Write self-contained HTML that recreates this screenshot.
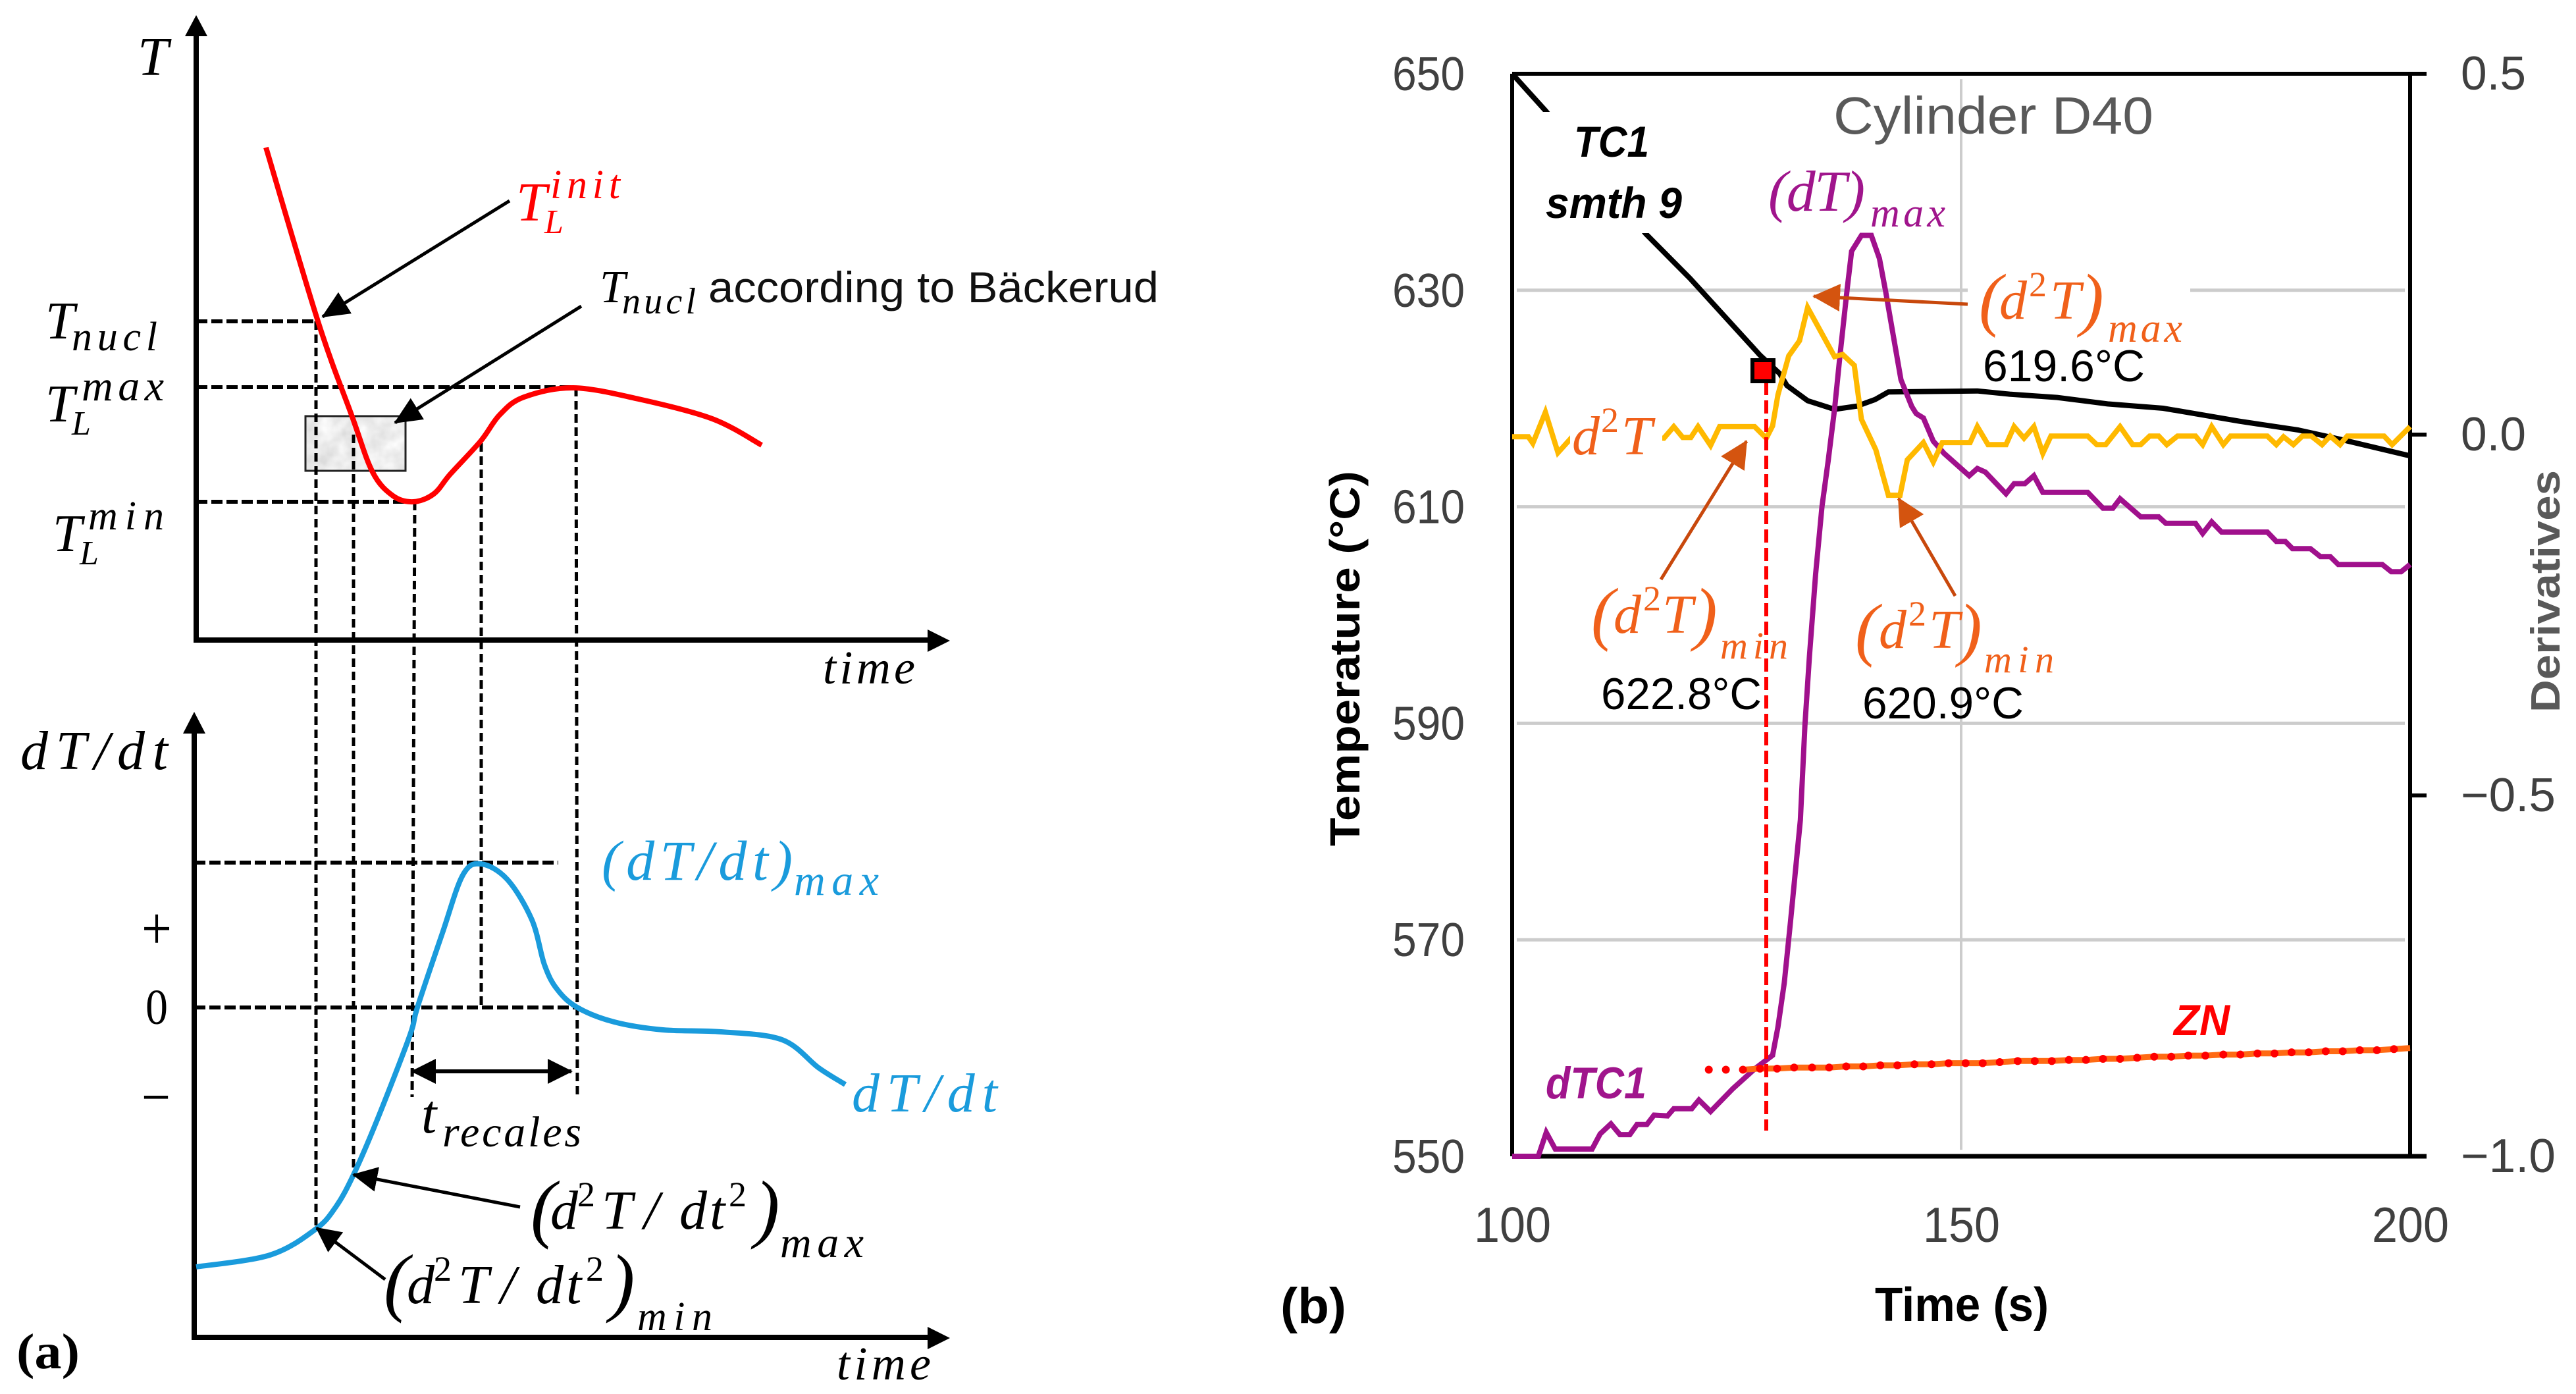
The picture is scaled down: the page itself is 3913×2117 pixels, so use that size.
<!DOCTYPE html>
<html lang="en">
<head>
<meta charset="utf-8">
<title>Cooling curve schematic and Cylinder D40 measurement</title>
<style>
html,body{margin:0;padding:0;background:#fff;width:3913px;height:2117px;overflow:hidden}
svg{display:block}
.m{font-family:"Liberation Serif",serif;font-style:italic}
.s{font-family:"Liberation Sans",sans-serif}
</style>
</head>
<body>
<svg id="figure" xmlns="http://www.w3.org/2000/svg" width="3913" height="2117" viewBox="0 0 3913 2117">
<defs>
<marker id="ah" markerUnits="userSpaceOnUse" markerWidth="42" markerHeight="38" refX="40" refY="19" orient="auto-start-reverse"><path d="M0,0L42,19L0,38z" fill="#000"/></marker>
<marker id="ahs" markerUnits="userSpaceOnUse" markerWidth="38" markerHeight="38" refX="36" refY="19" orient="auto-start-reverse"><path d="M0,0L38,19L0,38z" fill="#000"/></marker>
<marker id="ao" markerUnits="userSpaceOnUse" markerWidth="42" markerHeight="42" refX="40" refY="21" orient="auto"><path d="M0,0L42,21L0,42z" fill="#d4540f"/></marker>
<filter id="mottle" x="0" y="0" width="100%" height="100%">
  <feTurbulence type="fractalNoise" baseFrequency="0.035" numOctaves="3" seed="4"/>
  <feColorMatrix type="matrix" values="0 0 0 0 0.82  0 0 0 0 0.82  0 0 0 0 0.82  0 0 0 0 1"/>
  <feComposite in2="SourceGraphic" operator="in" result="base"/>
  <feTurbulence type="fractalNoise" baseFrequency="0.035" numOctaves="3" seed="4" result="n"/>
  <feColorMatrix in="n" type="matrix" values="0.45 0 0 0 0.62  0.45 0 0 0 0.62  0.45 0 0 0 0.62  0 0 0 0 1"/>
  <feComposite in2="SourceGraphic" operator="in"/>
</filter>
</defs>
<rect width="3913" height="2117" fill="#fff"/>

<g id="panel-a">
  <rect x="464" y="632" width="152" height="83" fill="#dcdcdc" filter="url(#mottle)"/>
  <rect x="464" y="632" width="152" height="83" fill="none" stroke="#222" stroke-width="3"/>
  <g stroke="#000" stroke-width="6" stroke-dasharray="17 6" fill="none">
    <line x1="298" y1="488" x2="483" y2="488"/>
    <line x1="298" y1="588" x2="871" y2="588"/>
    <line x1="298" y1="762" x2="628" y2="762"/>
    <line x1="295" y1="1310" x2="848" y2="1310"/>
    <line x1="295" y1="1530" x2="878" y2="1530"/>
  </g>
  <g stroke="#000" stroke-width="5" stroke-dasharray="13 7" fill="none">
    <line x1="480" y1="488" x2="480" y2="1867"/>
    <line x1="537" y1="660" x2="537" y2="1785"/>
    <line x1="630" y1="762" x2="626" y2="1666"/>
    <line x1="731" y1="673" x2="731" y2="1530"/>
    <line x1="875" y1="589" x2="877" y2="1666"/>
  </g>
  <g>
    <line x1="298" y1="50" x2="298" y2="976" stroke="#000" stroke-width="8"/>
    <polygon points="298,23 315,55 281,55" fill="#000"/>
    <line x1="295" y1="972" x2="1415" y2="972" stroke="#000" stroke-width="8"/>
    <polygon points="1443,973 1409,956 1409,990" fill="#000"/>
  </g>
  <g>
    <line x1="295" y1="1110" x2="295" y2="2035" stroke="#000" stroke-width="8"/>
    <polygon points="295,1081 312,1114 278,1114" fill="#000"/>
    <line x1="292" y1="2031" x2="1415" y2="2031" stroke="#000" stroke-width="8"/>
    <polygon points="1443,2032 1409,2015 1409,2049" fill="#000"/>
  </g>
  <g id="schematic-curves"></g>

  <line x1="774" y1="305" x2="490" y2="481" stroke="#000" stroke-width="5" marker-end="url(#ah)"/>
  <line x1="883" y1="465" x2="600" y2="642" stroke="#000" stroke-width="5" marker-end="url(#ah)"/>
  <line x1="626" y1="1627" x2="868" y2="1627" stroke="#000" stroke-width="6" marker-start="url(#ahs)" marker-end="url(#ahs)"/>
  <line x1="790" y1="1833" x2="537" y2="1784" stroke="#000" stroke-width="5" marker-end="url(#ahs)"/>
  <line x1="585" y1="1943" x2="481" y2="1865" stroke="#000" stroke-width="5" marker-end="url(#ahs)"/>

  <text class="m" x="209" y="114" font-size="84">T</text>
  <text class="m" x="69" y="514" font-size="80">T</text>
  <text class="m" x="109" y="532" font-size="62" textLength="130">nucl</text>
  <text class="m" x="69" y="640" font-size="80">T</text>
  <text class="m" x="124" y="608" font-size="66" textLength="125">max</text>
  <text class="m" x="109" y="660" font-size="52">L</text>
  <text class="m" x="80" y="837" font-size="80">T</text>
  <text class="m" x="134" y="804" font-size="62" textLength="115">min</text>
  <text class="m" x="121" y="857" font-size="52">L</text>
  <text class="m" x="1250" y="1038" font-size="72" textLength="140">time</text>
  <g fill="#ff0000">
    <text class="m" x="784" y="335" font-size="84">T</text>
    <text class="m" x="836" y="301" font-size="62" textLength="106">init</text>
    <text class="m" x="827" y="354" font-size="52">L</text>
  </g>
  <text class="m" x="911" y="459" font-size="70">T</text>
  <text class="m" x="945" y="476" font-size="56" textLength="112">nucl</text>
  <text class="s" x="1076" y="459" font-size="66" fill="#111" textLength="684" lengthAdjust="spacingAndGlyphs">according to Bäckerud</text>

  <text class="m" x="31" y="1168" font-size="84" textLength="224">dT/dt</text>
  <text font-family="Liberation Serif,serif" x="215" y="1441" font-size="92" textLength="46" lengthAdjust="spacingAndGlyphs">+</text>
  <text font-family="Liberation Serif,serif" x="221" y="1555" font-size="76" textLength="34" lengthAdjust="spacingAndGlyphs">0</text>
  <text font-family="Liberation Serif,serif" x="215" y="1697" font-size="92" textLength="44" lengthAdjust="spacingAndGlyphs">−</text>
  <text class="m" x="1271" y="2095" font-size="72" textLength="143">time</text>
  <g fill="#1a9bdc">
    <text class="m" x="914" y="1336" font-size="86" textLength="290">(dT/dt)</text>
    <text class="m" x="1206" y="1359" font-size="66" textLength="129">max</text>
  </g>
  <text class="m" x="1294" y="1688" font-size="84" fill="#1a9bdc" textLength="221">dT/dt</text>
  <text class="m" x="640" y="1720" font-size="84">t</text>
  <text class="m" x="672" y="1741" font-size="66" textLength="211">recales</text>

  <text class="m" x="806" y="1873" font-size="115">(</text>
  <text class="m" y="1866" font-size="84"><tspan x="836">d</tspan><tspan x="877" dy="-34" font-size="54" font-style="normal">2</tspan><tspan x="914" dy="34">T</tspan><tspan x="978">/</tspan><tspan x="1032">d</tspan><tspan x="1078">t</tspan><tspan x="1107" dy="-34" font-size="54" font-style="normal">2</tspan></text>
  <text class="m" x="1146" y="1873" font-size="115">)</text>
  <text class="m" x="1185" y="1909" font-size="66" textLength="127">max</text>
  <text class="m" x="583" y="1985" font-size="115">(</text>
  <text class="m" y="1979" font-size="84"><tspan x="618">d</tspan><tspan x="659" dy="-34" font-size="54" font-style="normal">2</tspan><tspan x="696" dy="34">T</tspan><tspan x="760">/</tspan><tspan x="814">d</tspan><tspan x="860">t</tspan><tspan x="890" dy="-34" font-size="54" font-style="normal">2</tspan></text>
  <text class="m" x="926" y="1985" font-size="115">)</text>
  <text class="m" x="968" y="2020" font-size="62" textLength="114">min</text>
  <text font-family="Liberation Serif,serif" font-weight="bold" x="25" y="2078" font-size="76" textLength="96" lengthAdjust="spacingAndGlyphs">(a)</text>
</g>

<g id="panel-b">
  <g id="grid"></g>
  <rect x="2989" y="430" width="338" height="22" fill="#fff"/>
  <g id="axes"></g>
  <g id="series"></g>
  <rect x="2325" y="170" width="250" height="184" fill="#fff"/>
  <rect x="2385" y="622" width="140" height="78" fill="#fff"/>
  <text class="s" x="2785" y="203" font-size="80" fill="#595959" textLength="486" lengthAdjust="spacingAndGlyphs">Cylinder D40</text>
  <text class="s" x="2391" y="238" font-size="66" font-weight="bold" font-style="italic" textLength="114" lengthAdjust="spacingAndGlyphs">TC1</text>
  <text class="s" x="2348" y="331" font-size="66" font-weight="bold" font-style="italic" textLength="207" lengthAdjust="spacingAndGlyphs">smth 9</text>
  <g fill="#a0158c">
    <text class="m" x="2686" y="320" font-size="88" textLength="147">(dT)</text>
    <text class="m" x="2841" y="344" font-size="62" textLength="114">max</text>
  </g>
  <g fill="#f0601a">
    <text class="m" y="690" font-size="84"><tspan x="2388">d</tspan><tspan x="2432" dy="-34" font-size="54" font-style="normal">2</tspan><tspan x="2463" dy="34">T</tspan></text>
    <text class="m" x="3006" y="490" font-size="107">(</text>
    <text class="m" y="484" font-size="84"><tspan x="3037">d</tspan><tspan x="3082" dy="-34" font-size="54" font-style="normal">2</tspan><tspan x="3114" dy="34">T</tspan></text>
    <text class="m" x="3160" y="490" font-size="107">)</text>
    <text class="m" x="3202" y="519" font-size="62" textLength="113">max</text>
    <text class="m" x="2417" y="967" font-size="107">(</text>
    <text class="m" y="961" font-size="84"><tspan x="2451">d</tspan><tspan x="2496" dy="-34" font-size="54" font-style="normal">2</tspan><tspan x="2525" dy="34">T</tspan></text>
    <text class="m" x="2573" y="967" font-size="107">)</text>
    <text class="m" x="2613" y="1000" font-size="58" textLength="103">min</text>
    <text class="m" x="2818" y="991" font-size="107">(</text>
    <text class="m" y="984" font-size="84"><tspan x="2854">d</tspan><tspan x="2899" dy="-34" font-size="54" font-style="normal">2</tspan><tspan x="2930" dy="34">T</tspan></text>
    <text class="m" x="2975" y="991" font-size="107">)</text>
    <text class="m" x="3014" y="1021" font-size="58" textLength="106">min</text>
  </g>
  <line x1="2989" y1="462" x2="2755" y2="450" stroke="#c8480c" stroke-width="5" marker-end="url(#ao)"/>
  <line x1="2523" y1="880" x2="2653" y2="670" stroke="#c8480c" stroke-width="5" marker-end="url(#ao)"/>
  <line x1="2970" y1="905" x2="2884" y2="757" stroke="#c8480c" stroke-width="5" marker-end="url(#ao)"/>
  <text class="s" x="3012" y="579" font-size="68" textLength="246" lengthAdjust="spacingAndGlyphs">619.6°C</text>
  <text class="s" x="2432" y="1077" font-size="68" textLength="244" lengthAdjust="spacingAndGlyphs">622.8°C</text>
  <text class="s" x="2829" y="1091" font-size="68" textLength="245" lengthAdjust="spacingAndGlyphs">620.9°C</text>
  <text class="s" x="3302" y="1572" font-size="66" font-weight="bold" font-style="italic" fill="#ff0000" textLength="85" lengthAdjust="spacingAndGlyphs">ZN</text>
  <text class="s" x="2348" y="1668" font-size="68" font-style="italic" font-weight="bold" fill="#a0158c" textLength="153" lengthAdjust="spacingAndGlyphs">dTC1</text>
  <line x1="2683" y1="580" x2="2683" y2="1717" stroke="#ff0000" stroke-width="6" stroke-dasharray="20 8"/>
  <rect x="2662" y="547" width="32" height="32" fill="#ff0000" stroke="#000" stroke-width="6"/>
  <text class="s" transform="translate(2065,1285) rotate(-90)" font-size="64" font-weight="bold" textLength="570" lengthAdjust="spacingAndGlyphs">Temperature (°C)</text>
  <text class="s" transform="translate(3888,1082) rotate(-90)" font-size="62" font-weight="bold" fill="#595959" textLength="368" lengthAdjust="spacingAndGlyphs">Derivatives</text>
  <text class="s" x="2848" y="2006" font-size="72" font-weight="bold" textLength="264" lengthAdjust="spacingAndGlyphs">Time (s)</text>
  <text class="s" x="1945" y="2009" font-size="76" font-weight="bold" textLength="100" lengthAdjust="spacingAndGlyphs">(b)</text>
</g>
</svg>

<script>
// Panel (a): schematic curves, in arbitrary schematic units
const coolTimes = [10.6,18.5,23.7,26.8,29.9,33.0,36.1,38.6,43.2,46.1,49.8,57.3,67.2,78.4,85.9];
const coolValues = [74.8,48.4,33.9,25.5,21.9,21.0,22.2,25.2,30.2,34.2,36.9,38.3,36.6,33.6,29.6];
const rateTimes = [0,11.2,18.1,21.2,23.9,27.4,32.4,33.6,37.4,40.5,43.3,47.3,51,52.9,54.8,57.9,63.5,70.9,79.7,89,94.6,98.6];
const rateValues = [10.7,12.5,16.4,19.8,24.7,32.8,45.7,50.1,61.4,70.2,71.9,69.5,63.4,56.6,52.9,50.1,47.9,46.7,46.4,45.2,40.9,38.4];

// Panel (b): measured series
const tempTimes = [100,103.7,114.9,119.8,127.6,129.8,130.6,132.9,135.9,138.4,140.4,141.9,151.8,155.4,160.7,166.3,172.5,181,187.5,192.4,200];
const tempValues = [650,646.6,635.2,631.1,624,622.3,621.2,619.8,619,619.3,619.9,620.6,620.7,620.4,620.1,619.5,619.1,617.9,617.1,616.2,614.7];
const d1Times = [100,101.3,102.9,103.8,104.8,108.9,109.8,111,112,113.1,113.9,115,115.8,117.3,118,120,120.8,122.1,124.6,127.1,129,129.6,130.3,131,132.1,132.6,133.1,133.8,134.5,135.2,135.9,136.5,137.3,137.8,138.9,140,140.9,141.6,142.7,143.3,144.5,145,145.8,146.9,148.1,150.9,151.8,152.7,155,155.9,157.1,158.1,159.1,164.1,165.8,166.9,167.7,170,172,172.8,176.1,176.9,177.9,179,184.1,185.1,186.1,186.9,188.9,190,191.1,192,196.9,197.9,199,200];
const d1Values = [-1,-1,-1,-0.967,-0.99,-0.99,-0.969,-0.955,-0.97,-0.97,-0.956,-0.956,-0.943,-0.944,-0.934,-0.934,-0.922,-0.938,-0.906,-0.878,-0.86,-0.821,-0.76,-0.675,-0.534,-0.403,-0.308,-0.193,-0.1,-0.036,0.035,0.109,0.201,0.254,0.276,0.276,0.244,0.198,0.119,0.076,0.039,0.029,0.023,-0.009,-0.026,-0.057,-0.047,-0.052,-0.082,-0.068,-0.068,-0.057,-0.08,-0.08,-0.102,-0.102,-0.089,-0.114,-0.114,-0.123,-0.123,-0.137,-0.121,-0.135,-0.135,-0.148,-0.148,-0.158,-0.158,-0.169,-0.169,-0.18,-0.18,-0.19,-0.19,-0.18];
const d2Times = [100,101.8,102.3,103.7,105.1,106.7,116.9,118,119,119.9,120.7,122.1,123.1,127,128.3,129,129.6,130.8,132,132.9,135.9,136.8,138.1,138.9,140.5,141.9,143.2,144,145.8,146.9,147.9,151,151.8,153,155,155.9,157,158.1,159.1,160,164.1,165.1,166.1,167.7,169.1,170,171,172,172.9,174.1,176.1,176.9,177.9,179.2,180,184.1,185.1,185.9,187,188,189,190.2,191.1,192.2,193,197.1,198,200];
const d2Values = [-0.003,-0.003,-0.012,0.031,-0.025,-0.003,-0.005,0.011,-0.004,-0.004,0.011,-0.015,0.011,0.011,-0.005,0.012,0.055,0.109,0.13,0.176,0.108,0.111,0.096,0.021,-0.021,-0.084,-0.084,-0.035,-0.011,-0.038,-0.011,-0.011,0.011,-0.014,-0.014,0.011,-0.005,0.011,-0.026,-0.002,-0.002,-0.014,-0.014,0.011,-0.014,-0.014,-0.002,-0.002,-0.014,-0.002,-0.002,-0.014,0.011,-0.014,-0.002,-0.002,-0.014,-0.003,-0.014,-0.002,-0.002,-0.014,-0.002,-0.014,-0.002,-0.002,-0.014,0.011];
const zoneTimes = [121.9,123.8,125.7,127.6,129.5,131.4,133.4,135.3,137.2,139.1,141,142.9,144.8,146.7,148.6,150.5,152.4,154.3,156.3,158.2,160.1,162,163.9,165.8,167.7,169.6,171.5,173.4,175.3,177.2,179.2,181.1,183,184.9,186.8,188.7,190.6,192.5,194.4,196.3,198.2];
const zoneValues = [558,558,558,558.1,558.1,558.2,558.2,558.2,558.3,558.3,558.4,558.4,558.5,558.5,558.6,558.6,558.6,558.7,558.8,558.8,558.8,558.9,558.9,559,559,559.1,559.2,559.2,559.3,559.3,559.4,559.4,559.5,559.5,559.6,559.6,559.7,559.7,559.8,559.8,559.9];

// Tick labels
const leftTicks = [550,570,590,610,630,650];
const rightTicks = [-1,-0.5,0,0.5];
const rightTickLabels = ['−1.0','−0.5','0.0','0.5'];
const xTicks = [100,150,200];

const NS = 'http://www.w3.org/2000/svg';

// Axis functions, panel (b)
function xScale(t) { return 2297 + (t - 100) * 13.64; }
function yTemp(v) { return 1756 - (v - 550) * 16.44; }
function yDeriv(v) { return 660 - v * 1096; }

// Axis functions, panel (a)
function schemX(t) { return 298 + t * 10; }
function schemYUpper(v) { return 972 - v * 10; }
function schemYLower(v) { return 2031 - v * 10; }

function make(tag, parent) {
  const el = document.createElementNS(NS, tag);
  parent.appendChild(el);
  return el;
}
function pointsAttr(xs, ys, fx, fy) {
  return xs.map(function (x, i) { return fx(x).toFixed(1) + ',' + fy(ys[i]).toFixed(1); }).join(' ');
}
function smoothPath(xs, ys, fx, fy) {
  const p = xs.map(function (x, i) { return [fx(x), fy(ys[i])]; });
  let d = 'M' + p[0][0] + ',' + p[0][1];
  for (let i = 0; i < p.length - 1; i++) {
    const a = p[Math.max(i - 1, 0)], b = p[i], c = p[i + 1], e = p[Math.min(i + 2, p.length - 1)];
    d += 'C' + (b[0] + (c[0] - a[0]) / 6).toFixed(1) + ',' + (b[1] + (c[1] - a[1]) / 6).toFixed(1) + ' ' +
         (c[0] - (e[0] - b[0]) / 6).toFixed(1) + ',' + (c[1] - (e[1] - b[1]) / 6).toFixed(1) + ' ' +
         c[0].toFixed(1) + ',' + c[1].toFixed(1);
  }
  return d;
}

// Schematic curves
const schematic = document.getElementById('schematic-curves');
const coolCurve = make('path', schematic);


coolCurve.setAttribute('d', smoothPath(coolTimes, coolValues, schemX, schemYUpper));
coolCurve.setAttribute('fill', 'none');
coolCurve.setAttribute('stroke', '#ff0000');
coolCurve.setAttribute('stroke-width', '8');
const rateCurve = make('path', schematic);


rateCurve.setAttribute('d', smoothPath(rateTimes, rateValues, schemX, schemYLower));
rateCurve.setAttribute('fill', 'none');
rateCurve.setAttribute('stroke', '#1a9bdc');
rateCurve.setAttribute('stroke-width', '8');

// Grid
const grid = document.getElementById('grid');
leftTicks.forEach(function (v) {
  if (v === 550 || v === 650) return;
  const g = make('line', grid);
  
  
  g.setAttribute('x1', xScale(100) + 7);
  g.setAttribute('x2', xScale(200) - 8);
  g.setAttribute('y1', yTemp(v));
  g.setAttribute('y2', yTemp(v));
  g.setAttribute('stroke', '#cccccc');
  g.setAttribute('stroke-width', '5');
});
const vGrid = make('line', grid);


vGrid.setAttribute('x1', xScale(150));
vGrid.setAttribute('x2', xScale(150));
vGrid.setAttribute('y1', yTemp(649.5));
vGrid.setAttribute('y2', yTemp(550.6));
vGrid.setAttribute('stroke', '#cccccc');
vGrid.setAttribute('stroke-width', '4');

// Axes
const axes = document.getElementById('axes');
function spine(name, x1, y1, x2, y2, w) {
  const l = make('line', axes);
  l.setAttribute('x1', x1);
  l.setAttribute('y1', y1);
  l.setAttribute('x2', x2);
  l.setAttribute('y2', y2);
  l.setAttribute('stroke', '#000');
  l.setAttribute('stroke-width', w);
  
  
}
spine('left-spine', xScale(100), yTemp(650), xScale(100), yTemp(550), 6);
spine('right-spine', xScale(200), yTemp(650), xScale(200), yTemp(550), 6);
spine('top-spine', xScale(100), yTemp(650), xScale(200) + 25, yTemp(650), 6);
spine('bottom-spine', xScale(100), yTemp(550), xScale(200) + 25, yTemp(550), 7);

rightTicks.forEach(function (v, i) {
  spine('right-tick', xScale(200), yDeriv(v), xScale(200) + 25, yDeriv(v), 6);
  const t = make('text', axes);
  
  
  t.setAttribute('x', 3738);
  t.setAttribute('y', yDeriv(v) + 24);
  t.setAttribute('class', 's');
  t.setAttribute('font-size', '72');
  t.setAttribute('fill', '#404040');
  t.setAttribute('textLength', rightTickLabels[i].length > 3 ? 144 : 99);
  t.setAttribute('lengthAdjust', 'spacingAndGlyphs');
  t.textContent = rightTickLabels[i];
});
leftTicks.forEach(function (v) {
  const t = make('text', axes);
  
  
  t.setAttribute('x', 2115);
  t.setAttribute('y', yTemp(v) + 25);
  t.setAttribute('class', 's');
  t.setAttribute('font-size', '72');
  t.setAttribute('fill', '#404040');
  t.setAttribute('textLength', 110);
  t.setAttribute('lengthAdjust', 'spacingAndGlyphs');
  t.textContent = v;
});
xTicks.forEach(function (v) {
  const t = make('text', axes);
  
  
  t.setAttribute('x', xScale(v) - 58);
  t.setAttribute('y', 1886);
  t.setAttribute('class', 's');
  t.setAttribute('font-size', '75');
  t.setAttribute('fill', '#404040');
  t.setAttribute('textLength', 117);
  t.setAttribute('lengthAdjust', 'spacingAndGlyphs');
  t.textContent = v;
});

// Series
const series = document.getElementById('series');
const tempLine = make('polyline', series);


tempLine.setAttribute('points', pointsAttr(tempTimes, tempValues, xScale, yTemp));
tempLine.setAttribute('fill', 'none');
tempLine.setAttribute('stroke', '#000');
tempLine.setAttribute('stroke-width', '8');

const d1Line = make('polyline', series);


d1Line.setAttribute('points', pointsAttr(d1Times, d1Values, xScale, yDeriv));
d1Line.setAttribute('fill', 'none');
d1Line.setAttribute('stroke', '#a0108c');
d1Line.setAttribute('stroke-width', '8');

const d2Line = make('polyline', series);


d2Line.setAttribute('points', pointsAttr(d2Times, d2Values, xScale, yDeriv));
d2Line.setAttribute('fill', 'none');
d2Line.setAttribute('stroke', '#ffb900');
d2Line.setAttribute('stroke-width', '8');

const zoneLine = make('polyline', series);


zoneLine.setAttribute('points', pointsAttr(zoneTimes.slice(2).concat([200]), zoneValues.slice(2).concat([560]), xScale, yTemp));
zoneLine.setAttribute('fill', 'none');
zoneLine.setAttribute('stroke', '#ff6a13');
zoneLine.setAttribute('stroke-width', '9');

zoneTimes.forEach(function (t, i) {
  const c = make('circle', series);
  
  
  c.setAttribute('cx', xScale(t));
  c.setAttribute('cy', yTemp(zoneValues[i]));
  c.setAttribute('r', '6');
  c.setAttribute('fill', '#ff0000');
});
</script>
</body>
</html>
